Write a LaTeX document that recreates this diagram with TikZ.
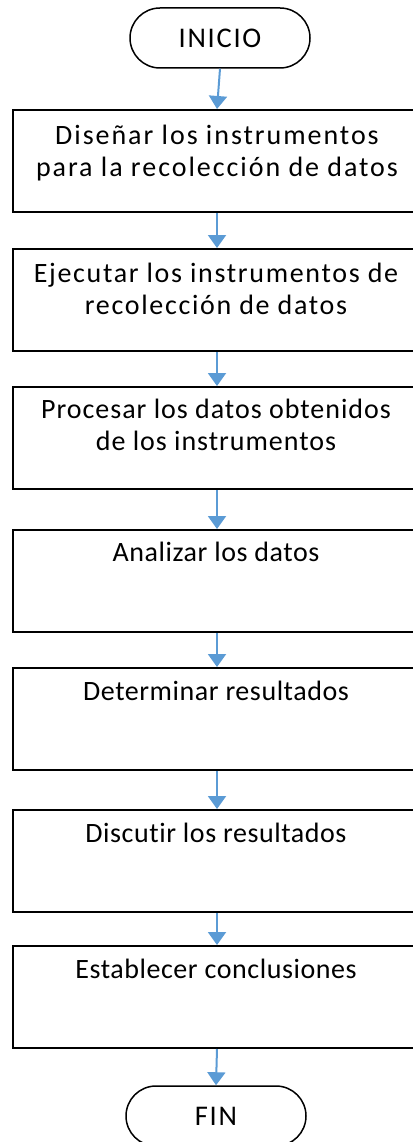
\documentclass[tikz,border=0pt]{standalone}
\usepackage{fontspec}
\setmainfont{Carlito}[Ligatures=NoCommon]
\usetikzlibrary{arrows.meta,shapes.misc}
\definecolor{arrowblue}{HTML}{5B9BD5}
\begin{document}
\begin{tikzpicture}[x=1pt,y=-1pt,
  term/.style={draw, line width=1.5pt, rounded rectangle, minimum width=180pt, minimum height=60pt, inner sep=0pt, font=\fontsize{28.5}{31}\selectfont\addfontfeatures{LetterSpace=6}},
  stepbox/.style={draw, line width=2pt, minimum width=408pt, minimum height=102pt, anchor=north, inner sep=0pt},
  lbl/.style={align=center, anchor=base, inner sep=0pt, font=\fontsize{28}{31.5}\selectfont\addfontfeatures{LetterSpace=#1}},
  lbl/.default=2,
  arr/.style={draw=arrowblue, line width=2pt, -{Triangle[width=18pt,length=13pt]}}]
\useasboundingbox (0,0) rectangle (412,1142);
\node[term] (ini) at (220,38) {INICIO};
\node[stepbox] (b1) at (217,109) {};
\node[stepbox] (b2) at (217,248) {};
\node[stepbox] (b3) at (217,386) {};
\node[stepbox] (b4) at (217,529) {};
\node[stepbox] (b5) at (217,667) {};
\node[stepbox] (b6) at (217,809) {};
\node[stepbox] (b7) at (217,945) {};
\node[term] (fin) at (216,1116) {FIN};
\node[lbl=7] (t1) at (217,176) {Diseñar los instrumentos\\para la recolección de datos};
\node[lbl=6] (t2) at (216,314) {Ejecutar los instrumentos de\\recolección de datos};
\node[lbl=3.5] (t3) at (216,450) {Procesar los datos obtenidos\\de los instrumentos};
\node[lbl] (t4) at (216,561) {Analizar los datos};
\node[lbl] (t5) at (216,700) {Determinar resultados};
\node[lbl] (t6) at (216,842) {Discutir los resultados};
\node[lbl] (t7) at (216,978) {Establecer conclusiones};
\draw[arr] (ini.south) -- (b1.north);
\draw[arr] (b1.south) -- (b2.north);
\draw[arr] (b2.south) -- (b3.north);
\draw[arr] (b3.south) -- (b4.north);
\draw[arr] (b4.south) -- (b5.north);
\draw[arr] (b5.south) -- (b6.north);
\draw[arr] (b6.south) -- (b7.north);
\draw[arr] (b7.south) -- (fin.north);
\end{tikzpicture}
\end{document}
